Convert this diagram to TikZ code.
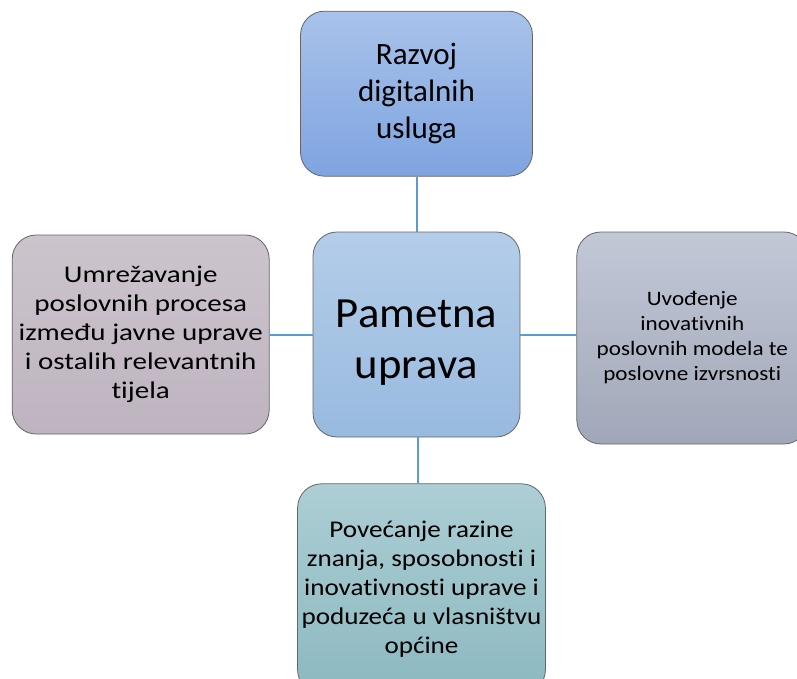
\documentclass[tikz,border=0pt]{standalone}
\usepackage{fontspec}
\setmainfont[Ligatures=NoCommon]{Carlito}
\newfontfamily\wideL[Ligatures=NoCommon, FakeStretch=1.21]{Carlito}
\newfontfamily\wideM[Ligatures=NoCommon, FakeStretch=1.13]{Carlito}
\newfontfamily\wideS[Ligatures=NoCommon, FakeStretch=1.04]{Carlito}
\usepackage{tikz}
\usetikzlibrary{positioning}
\definecolor{linkblue}{RGB}{91, 155, 213}
\definecolor{edgegray}{RGB}{100, 100, 105}

\begin{document}
\begin{tikzpicture}[
    x=1pt, y=1pt,
    box/.style={draw=edgegray, line width=0.8pt, rounded corners=24pt, align=center, inner sep=4pt, text=black},
    link/.style={linkblue, line width=2pt}
]
    \useasboundingbox (0,0) rectangle (797,-679);
    \begin{scope}
    \clip (0,0) rectangle (797,-679);
    % Nodes - centre
    \node[box, minimum width=207pt, minimum height=205pt, top color={rgb,255:red,180;green,205;blue,233}, bottom color={rgb,255:red,152;green,186;blue,223}, font=\wideS\fontsize{43}{51}\selectfont] (uprava) at (416.5,-334.5) {\rule{0pt}{43pt}Pametna\\uprava};
    % Nodes - around
    \node[box, above=55pt of uprava, minimum width=232pt, minimum height=165pt, top color={rgb,255:red,168;green,194;blue,234}, bottom color={rgb,255:red,126;green,164;blue,224}, font=\fontsize{31}{37}\selectfont] (usluge) {Razvoj\\digitalnih\\usluga};
    \node[box, left=43pt of uprava, minimum width=257pt, minimum height=199pt, top color={rgb,255:red,204;green,196;blue,205}, bottom color={rgb,255:red,190;green,180;blue,192}, font=\wideL\fontsize{24}{29}\selectfont] (procesi) {Umrežavanje\\poslovnih procesa\\između javne uprave\\i ostalih relevantnih\\tijela};
    \node[box, right=56pt of uprava, yshift=-3.5pt, minimum width=231pt, minimum height=212pt, top color={rgb,255:red,194;green,200;blue,214}, bottom color={rgb,255:red,160;green,167;blue,184}, font=\wideM\fontsize{20.5}{25}\selectfont] (modeli) {Uvođenje\\inovativnih\\poslovnih modela te\\poslovne izvrsnosti};
    \node[box, below=46pt of uprava, xshift=5pt, minimum width=247pt, minimum height=210pt, top color={rgb,255:red,172;green,206;blue,212}, bottom color={rgb,255:red,140;green,184;blue,192}, font=\wideM\fontsize{24}{29}\selectfont] (znanje) {Povećanje razine\\znanja, sposobnosti i\\inovativnosti uprave i\\poduzeća u vlasništvu\\općine};
    \end{scope}

    % Links
    \draw[link] (uprava.north) -- (usluge.south);
    \draw[link] (uprava.west) -- (procesi.east);
    \draw[link] (uprava.east) -- (uprava.east -| modeli.west);
    \draw[link] (uprava.south) ++(1.5,0) coordinate (s) -- (s |- znanje.north);
\end{tikzpicture}
\end{document}
